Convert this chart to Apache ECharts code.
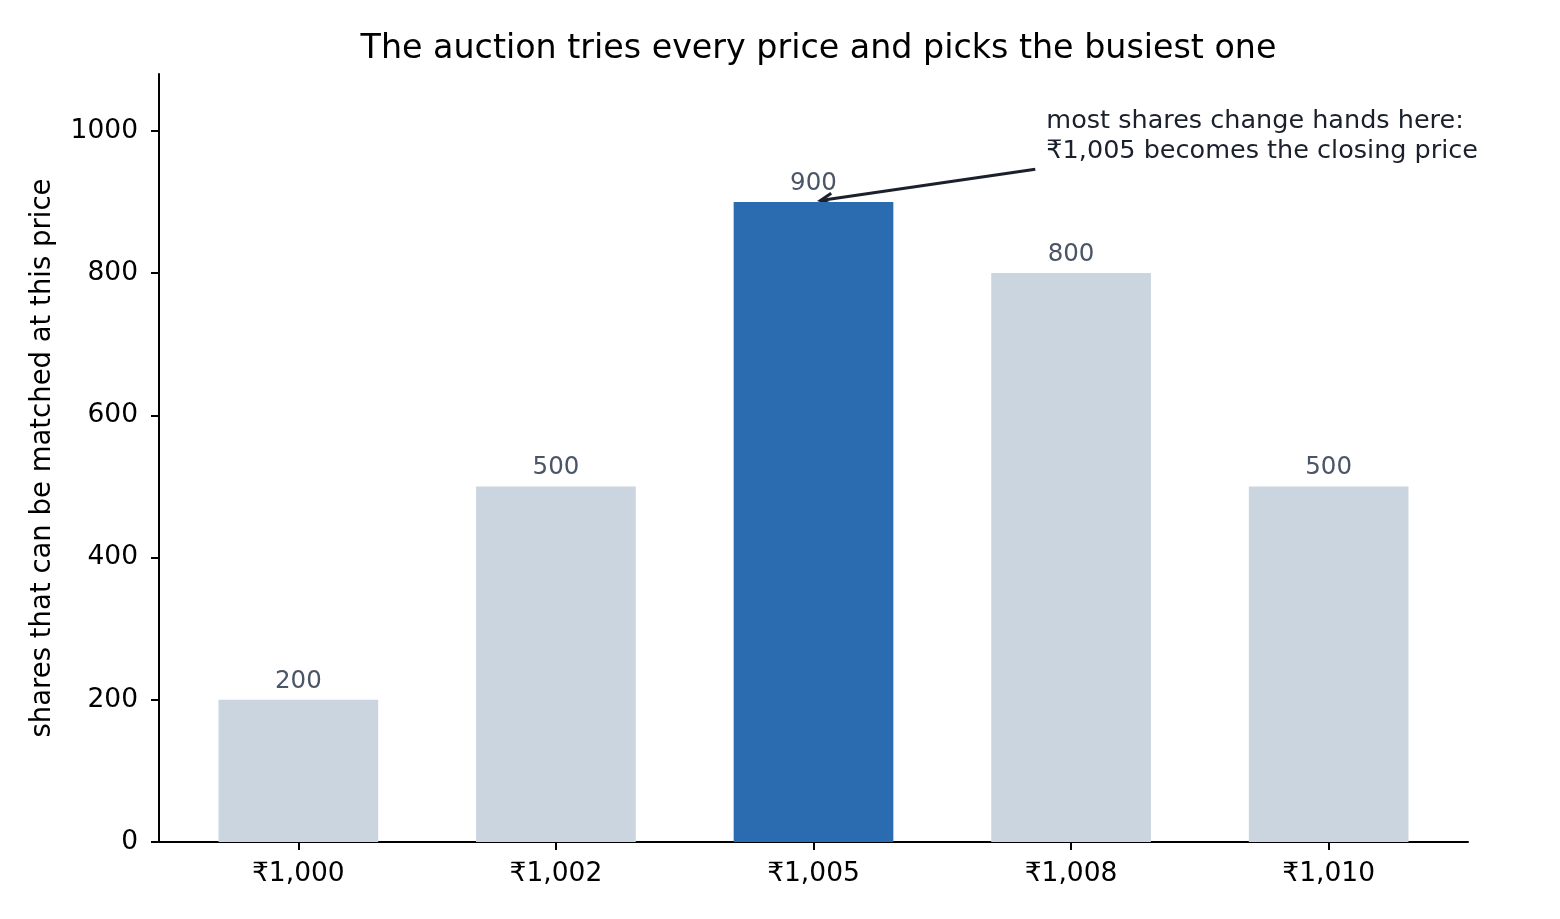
<!doctype html>
<html lang="en">
<head>
    <meta charset="UTF-8">
    <title>Closing auction</title>
    <script src="https://cdn.jsdelivr.net/npm/echarts@6/dist/echarts.min.js"></script>
    <style>
        html, body {margin: 0; padding: 0; background: #fff;}
        #chart {width: 1560px; height: 919px;}
    </style>
</head>
<body>
<div id="chart"></div>
<script type="text/javascript">
    // data
    const prices = ['₹1,000', '₹1,002', '₹1,005', '₹1,008', '₹1,010'];
    const matched = [200, 500, 900, 800, 500];
    const yTicks = [0, 200, 400, 600, 800, 1000];
    const noteText = 'most shares change hands here:\n₹1,005 becomes the closing price';
    const noteAt = [2.904, 992];
    const arrowFrom = [2.861, 946];
    const arrowTo = [2.027, 902];

    const font = 'DejaVu Sans';
    const xMin = -0.541, xMax = 4.541;
    const gridLeft = 159, gridRight = 92, gridTop = 74, gridBottom = 77;
    const gridW = 1560 - gridLeft - gridRight;
    const barW = 0.62 * gridW / (xMax - xMin);

    const best = matched.indexOf(Math.max.apply(null, matched));
    const barData = matched.map(function (v, i) {
        return {
            value: [i, v],
            itemStyle: {color: i === best ? '#2b6cb0' : '#cbd5e0'}
        };
    });

    const chart = echarts.init(document.getElementById('chart'));
    chart.setOption({
        animation: false,
        textStyle: {fontFamily: font},
        title: {
            text: 'The auction tries every price and picks the busiest one',
            left: gridLeft + gridW / 2,
            textAlign: 'center',
            top: 28,
            textStyle: {fontFamily: font, fontSize: 33.3, fontWeight: 'normal', color: '#000'}
        },
        grid: {left: gridLeft, right: gridRight, top: gridTop, bottom: gridBottom},
        xAxis: {
            type: 'value',
            min: xMin,
            max: xMax,
            splitLine: {show: false},
            axisLine: {show: true, onZero: false, lineStyle: {color: '#000', width: 2}},
            axisTick: {show: true, inside: false, customValues: [0, 1, 2, 3, 4], length: 8, lineStyle: {color: '#000', width: 2}},
            axisLabel: {
                customValues: [0, 1, 2, 3, 4],
                formatter: function (v) { return prices[v]; },
                margin: 19,
                fontSize: 26.5,
                color: '#000',
                fontFamily: font
            }
        },
        yAxis: {
            type: 'value',
            min: 0,
            max: 1080,
            name: 'shares that can be matched at this price',
            nameLocation: 'middle',
            nameGap: 102,
            nameTextStyle: {fontSize: 27.5, color: '#000', fontFamily: font},
            splitLine: {show: false},
            axisLine: {show: true, onZero: false, lineStyle: {color: '#000', width: 2}},
            axisTick: {show: true, inside: false, customValues: yTicks, length: 8, lineStyle: {color: '#000', width: 2}},
            axisLabel: {
                customValues: yTicks,
                formatter: function (v) { return String(v); },
                margin: 21,
                fontSize: 26.5,
                color: '#000',
                fontFamily: font
            }
        },
        series: [{
            type: 'bar',
            barWidth: barW,
            data: barData,
            label: {
                show: true,
                position: 'top',
                distance: 6,
                fontSize: 24.5,
                color: '#4a5568',
                fontFamily: font,
                formatter: function (p) { return p.value[1]; }
            }
        }]
    });

    // annotation: text plus an open-headed arrow, placed through the axes
    const p0 = chart.convertToPixel({gridIndex: 0}, arrowFrom);
    const p1 = chart.convertToPixel({gridIndex: 0}, arrowTo);
    const pt = chart.convertToPixel({gridIndex: 0}, noteAt);
    const ang = Math.atan2(p0[1] - p1[1], p0[0] - p1[0]);
    const head = 13, spread = 0.45;
    chart.setOption({
        graphic: [
            {
                type: 'text',
                x: pt[0], y: pt[1],
                style: {
                    text: noteText,
                    fontFamily: font,
                    fontSize: 25.5,
                    lineHeight: 30,
                    fill: '#1a202c',
                    verticalAlign: 'middle',
                    align: 'left'
                }
            },
            {
                type: 'line',
                shape: {x1: p0[0], y1: p0[1], x2: p1[0], y2: p1[1]},
                style: {stroke: '#1a202c', lineWidth: 3}
            },
            {
                type: 'polyline',
                shape: {
                    points: [
                        [p1[0] + head * Math.cos(ang - spread), p1[1] + head * Math.sin(ang - spread)],
                        [p1[0], p1[1]],
                        [p1[0] + head * Math.cos(ang + spread), p1[1] + head * Math.sin(ang + spread)]
                    ]
                },
                style: {stroke: '#1a202c', lineWidth: 3, fill: null}
            }
        ]
    });
</script>
</body>
</html>
